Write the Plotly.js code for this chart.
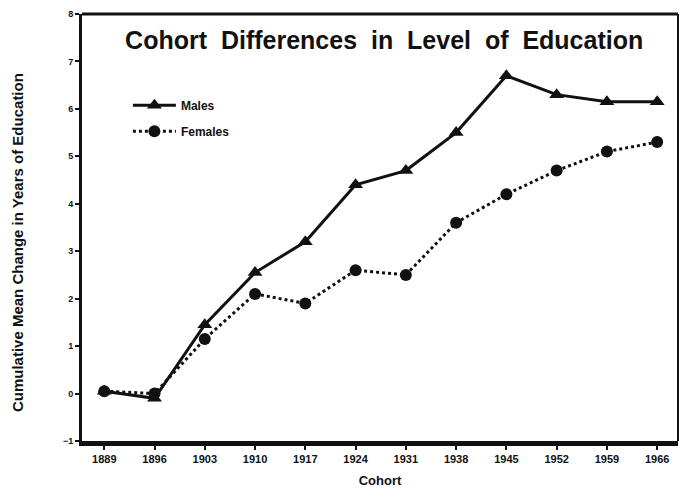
<!DOCTYPE html>
<html>
<head>
<meta charset="utf-8">
<script src="https://cdn.plot.ly/plotly-3.0.1.min.js"></script>
<style>html,body{margin:0;padding:0;background:#fff;}#chart{width:681px;height:488px;}</style>
</head>
<body>
<div id="chart"></div>
<script>
var cohorts = [1889, 1896, 1903, 1910, 1917, 1924, 1931, 1938, 1945, 1952, 1959, 1966];
var males = [0.05, -0.1, 1.45, 2.55, 3.2, 4.4, 4.7, 5.5, 6.7, 6.3, 6.15, 6.15];
var females = [0.05, 0.0, 1.15, 2.1, 1.9, 2.6, 2.5, 3.6, 4.2, 4.7, 5.1, 5.3];
var yTicks = [-1, 0, 1, 2, 3, 4, 5, 6, 7, 8];

var F = 'Liberation Sans, Arial, sans-serif';
var traces = [
  {x: cohorts, y: males, name: 'Males', legendgroup: 'm', type: 'scatter', mode: 'lines+markers',
   line: {color: '#111', width: 3, dash: 'solid'},
   marker: {symbol: 'triangle-up', size: 13, color: '#111'}},
  {x: cohorts, y: females, name: 'Females', legendgroup: 'f', type: 'scatter', mode: 'lines+markers',
   line: {color: '#111', width: 3, dash: 'dot'},
   marker: {symbol: 'circle', size: 12, color: '#111'}}
];
var layout = {
  width: 681, height: 488,
  margin: {l: 82, r: 3, t: 14, b: 47},
  paper_bgcolor: '#fff', plot_bgcolor: '#fff',
  title: {text: '<b>Cohort&nbsp; Differences&nbsp; in&nbsp; Level&nbsp; of&nbsp; Education</b>', font: {family: F, size: 25, color: '#111'},
          x: 0.507, xref: 'paper', xanchor: 'center', y: 0.939, yref: 'paper', yanchor: 'middle'},
  showlegend: true,
  legend: {x: 0.077, y: 0.82, xanchor: 'left', yanchor: 'top', bgcolor: 'rgba(0,0,0,0)', itemwidth: 43,
           font: {family: F, size: 12, color: '#111', weight: 'bold'}, tracegroupgap: 7},
  xaxis: {range: [1885.9, 1968.9], tickvals: cohorts, ticktext: cohorts.map(String),
          showgrid: false, zeroline: false, showline: true, linewidth: 5, linecolor: '#111',
          ticks: 'outside', ticklen: 4, tickwidth: 2, tickcolor: '#111',
          tickfont: {family: F, size: 11, color: '#111', weight: 'bold'},
          title: {text: '<b>Cohort</b>', font: {family: F, size: 13, color: '#111'}, standoff: 14}},
  yaxis: {range: [-1, 8], tickvals: yTicks, showgrid: false, zeroline: false,
          showline: true, linewidth: 3, linecolor: '#111',
          ticks: 'outside', ticklen: 4, tickwidth: 2, tickcolor: '#111',
          tickfont: {family: F, size: 9, color: '#111', weight: 'bold'}},
  annotations: [
    {text: '<b>Cumulative Mean Change in Years of Education</b>', xref: 'paper', yref: 'paper',
     x: -0.107, y: 0.464, xanchor: 'center', yanchor: 'middle', textangle: -90, showarrow: false,
     font: {family: F, size: 15, color: '#111'}}
  ],
  shapes: [
    {type: 'line', xref: 'paper', yref: 'paper', x0: 0, x1: 1, y0: 1, y1: 1, line: {color: '#111', width: 3}},
    {type: 'line', xref: 'paper', yref: 'paper', x0: 1, x1: 1, y0: 0, y1: 1, line: {color: '#111', width: 2}}
  ]
};
Plotly.newPlot('chart', traces, layout, {displayModeBar: false, staticPlot: true});
</script>
</body>
</html>
